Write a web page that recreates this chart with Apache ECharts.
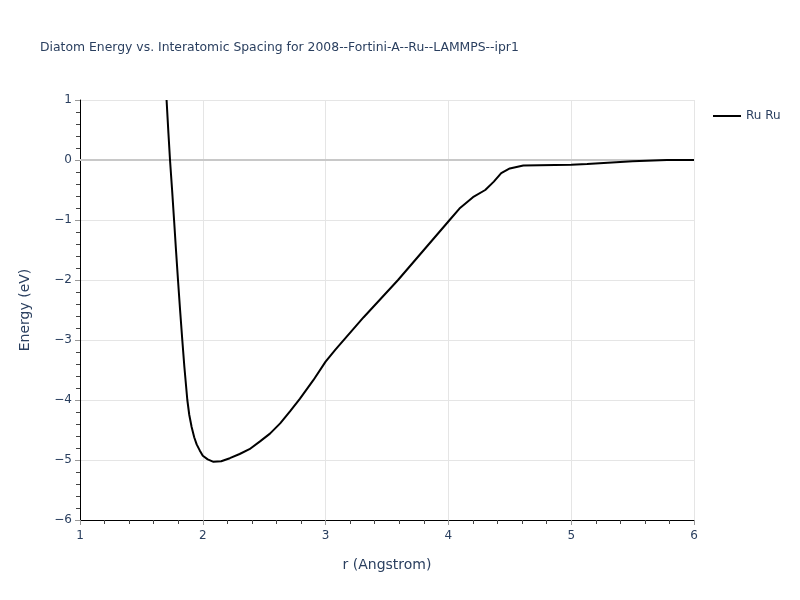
<!DOCTYPE html>
<html>
<head>
<meta charset="utf-8">
<script src="https://cdn.jsdelivr.net/npm/echarts@6/dist/echarts.min.js"></script>
<style>html,body{margin:0;padding:0;background:#fff}#c{width:800px;height:600px}</style>
</head>
<body>
<div id="c"></div>
<script>
const seriesName = 'Ru Ru';
const rValues = [1.705, 1.72, 1.733, 1.75, 1.766, 1.78, 1.798, 1.815, 1.833, 1.85, 1.874, 1.89, 1.909, 1.93, 1.95, 1.975, 2.0, 2.04, 2.087, 2.15, 2.22, 2.30, 2.38, 2.466, 2.547, 2.63, 2.71, 2.79, 2.90, 3.0, 3.08, 3.31, 3.59, 3.80, 4.01, 4.09, 4.20, 4.30, 4.37, 4.43, 4.50, 4.61, 5.0, 5.13, 5.50, 5.78, 6.0];
const energyValues = [1.0, 0.45, 0.0, -0.5, -1.0, -1.45, -2.0, -2.5, -3.0, -3.45, -4.0, -4.25, -4.45, -4.62, -4.74, -4.84, -4.93, -4.99, -5.03, -5.02, -4.97, -4.90, -4.82, -4.69, -4.56, -4.39, -4.19, -3.98, -3.67, -3.36, -3.16, -2.62, -2.0, -1.50, -1.0, -0.81, -0.62, -0.50, -0.36, -0.22, -0.14, -0.09, -0.078, -0.067, -0.022, 0.0, 0.0];
const xTicks = [1, 2, 3, 4, 5, 6];
const yTicks = [-6, -5, -4, -3, -2, -1, 0, 1];

const data = rValues.map((r, i) => [r, energyValues[i]]);
const txt = '#2a3f5f';
const font = '"DejaVu Sans", Verdana, sans-serif';

const chart = echarts.init(document.getElementById('c'), null, {renderer: 'canvas'});
chart.setOption({
  backgroundColor: '#fff',
  animation: false,
  title: {
    text: 'Diatom Energy vs. Interatomic Spacing for 2008--Fortini-A--Ru--LAMMPS--ipr1',
    left: 35, top: 37,
    textStyle: {fontFamily: font, fontSize: 12.4, fontWeight: 'normal', color: txt}
  },
  legend: {
    left: 708, top: 105,
    icon: 'rect', itemWidth: 28, itemHeight: 2, itemGap: 10,
    textStyle: {fontFamily: font, fontSize: 12, color: txt},
    data: [seriesName]
  },
  grid: {left: 80, right: 106, top: 100, bottom: 80, containLabel: false},
  xAxis: {
    type: 'value', min: xTicks[0], max: xTicks[xTicks.length - 1], interval: 1,
    name: 'r (Angstrom)', nameLocation: 'middle', nameGap: 38,
    nameTextStyle: {fontFamily: font, fontSize: 14, color: txt},
    axisLine: {show: true, onZero: false, lineStyle: {color: '#000', width: 1}},
    axisTick: {show: true, length: 5, lineStyle: {color: '#999'}},
    minorTick: {show: true, splitNumber: 5, length: 4, lineStyle: {color: '#444'}},
    axisLabel: {fontFamily: font, fontSize: 12, color: txt, margin: 10},
    splitLine: {show: true, lineStyle: {color: '#e5e5e5', width: 1}}
  },
  yAxis: {
    type: 'value', min: yTicks[0], max: yTicks[yTicks.length - 1], interval: 1,
    name: 'Energy (eV)', nameLocation: 'middle', nameGap: 48,
    nameTextStyle: {fontFamily: font, fontSize: 14, color: txt},
    axisLine: {show: true, onZero: false, lineStyle: {color: '#000', width: 1}},
    axisTick: {show: true, length: 5, lineStyle: {color: '#999'}},
    minorTick: {show: true, splitNumber: 5, length: 4, lineStyle: {color: '#444'}},
    axisLabel: {fontFamily: font, fontSize: 12, color: txt, margin: 8,
      formatter: v => (v < 0 ? '\u2212' + Math.abs(v) : String(v))},
    splitLine: {show: true, lineStyle: {color: '#e5e5e5', width: 1}}
  },
  series: [{
    name: seriesName,
    type: 'line',
    data: data,
    showSymbol: false,
    symbol: 'none',
    lineStyle: {color: '#000', width: 2},
    itemStyle: {color: '#000'},
    z: 3,
    markLine: {
      silent: true, symbol: 'none', label: {show: false},
      lineStyle: {color: '#c8c8c8', width: 2, type: 'solid'},
      data: [{yAxis: 0}],
      z: 1
    }
  }]
});
</script>
</body>
</html>
